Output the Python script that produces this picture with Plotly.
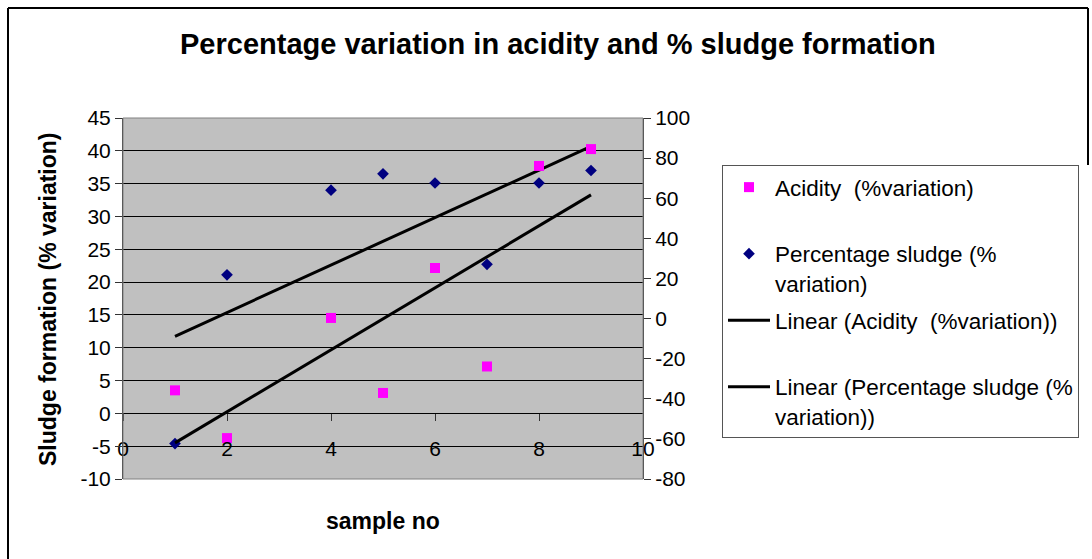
import numpy as np
import plotly.graph_objects as go

# ---- data ----
sample_no = [1, 2, 4, 5, 6, 7, 8, 9]
acidity_pct = [-35.8, -59.6, 0.3, -37.1, 25.2, -23.9, 76.1, 84.5]     # right axis
sludge_pct = [-4.6, 21.1, 34.0, 36.5, 35.1, 22.7, 35.1, 37.0]         # left axis

x_ticks = [0, 2, 4, 6, 8, 10]
left_ticks = [-10, -5, 0, 5, 10, 15, 20, 25, 30, 35, 40, 45]
right_ticks = [-80, -60, -40, -20, 0, 20, 40, 60, 80, 100]

names = ["Acidity\u00a0 (%variation)", "Percentage sludge (%<br>variation)",
         "Linear (Acidity\u00a0 (%variation))", "Linear (Percentage sludge (%<br>variation))"]

W, H = 1092, 559
PL, PR, PT, PB = 123, 643, 118, 479  # plot area in pixels
xd = [PL / W, PR / W]
yd = [1 - PB / H, 1 - PT / H]

# linear trendlines from the data
xs = np.array(sample_no, dtype=float)
xline = np.array([xs.min(), xs.max()])
ca = np.polyfit(xs, acidity_pct, 1)
cs = np.polyfit(xs, sludge_pct, 1)

FONT = "Arial, Liberation Sans, sans-serif"

fig = go.Figure()
fig.add_trace(go.Scatter(x=sample_no, y=acidity_pct, mode="markers", yaxis="y2",
                         name=names[0] + "<br> ", legendgroup="a",
                         marker=dict(symbol="square", size=10, color="#FF00FF")))
fig.add_trace(go.Scatter(x=sample_no, y=sludge_pct, mode="markers", yaxis="y",
                         name=names[1], legendgroup="b",
                         marker=dict(symbol="diamond", size=9, color="#000080")))
fig.add_trace(go.Scatter(x=xline, y=np.polyval(ca, xline), mode="lines", yaxis="y2",
                         name=names[2] + "<br> ", legendgroup="c",
                         line=dict(color="black", width=3)))
fig.add_trace(go.Scatter(x=xline, y=np.polyval(cs, xline), mode="lines", yaxis="y",
                         name=names[3], legendgroup="d",
                         line=dict(color="black", width=3)))

ypos0 = yd[0] + (0 - left_ticks[0]) / (left_ticks[-1] - left_ticks[0]) * (yd[1] - yd[0])

fig.update_layout(
    width=W, height=H,
    margin=dict(l=0, r=0, t=0, b=0, autoexpand=False),
    paper_bgcolor="white",
    plot_bgcolor="#C0C0C0",
    font=dict(family=FONT, size=21, color="black"),
    showlegend=True,
    legend=dict(x=722 / W, y=1 - 165 / H, xanchor="left", yanchor="top",
                bgcolor="white", bordercolor="#555555", borderwidth=1,
                font=dict(size=22.5), valign="top", tracegroupgap=5,
                itemwidth=42, traceorder="grouped"),
    xaxis=dict(domain=xd, range=[0, 10], tickvals=x_ticks, ticks="outside", ticklen=7,
               tickcolor="#333333", showgrid=False, zeroline=False, showline=False,
               anchor="free", position=ypos0, ticklabelstandoff=9, automargin=False),
    yaxis=dict(domain=yd, range=[-10, 45], tickvals=left_ticks,
               ticktext=[str(v) for v in left_ticks], ticks="outside", ticklen=7,
               tickcolor="#333333", showgrid=True, gridcolor="black", gridwidth=1,
               zeroline=False, showline=True, linecolor="#333333", linewidth=1,
               automargin=False),
    yaxis2=dict(overlaying="y", side="right", range=[-80, 100], tickvals=right_ticks,
                ticktext=[str(v) for v in right_ticks],
                ticks="outside", ticklen=7, tickcolor="#333333", showgrid=False,
                zeroline=False, showline=True, linecolor="#333333", linewidth=1,
                automargin=False),
    annotations=[
        dict(text="<b>Percentage variation in acidity and % sludge formation</b>",
             x=558 / W, y=1 - 44 / H, xref="paper", yref="paper", showarrow=False,
             xanchor="center", yanchor="middle", font=dict(size=29)),
        dict(text="<b>sample no</b>", x=(PL + PR) / 2 / W, y=1 - 521 / H, xref="paper",
             yref="paper", showarrow=False, xanchor="center", yanchor="middle",
             font=dict(size=23)),
        dict(text="<b>Sludge formation (% variation)</b>", x=48 / W, y=1 - 299 / H,
             xref="paper", yref="paper", showarrow=False, textangle=-90,
             xanchor="center", yanchor="middle", font=dict(size=23)),
    ],
    shapes=[
        dict(type="rect", xref="paper", yref="paper", x0=xd[0], x1=xd[1], y0=yd[0], y1=yd[1],
             line=dict(color="#808080", width=1), layer="above"),
        # outer chart frame (left, top, upper right)
        dict(type="line", xref="paper", yref="paper", x0=8 / W, x1=8 / W, y0=0, y1=1 - 8 / H,
             line=dict(color="black", width=2)),
        dict(type="line", xref="paper", yref="paper", x0=8 / W, x1=1088 / W,
             y0=1 - 8 / H, y1=1 - 8 / H, line=dict(color="black", width=2)),
        dict(type="line", xref="paper", yref="paper", x0=1088 / W, x1=1088 / W,
             y0=1 - 165 / H, y1=1 - 8 / H, line=dict(color="black", width=2)),
    ],
)

fig.write_html("out.html")
